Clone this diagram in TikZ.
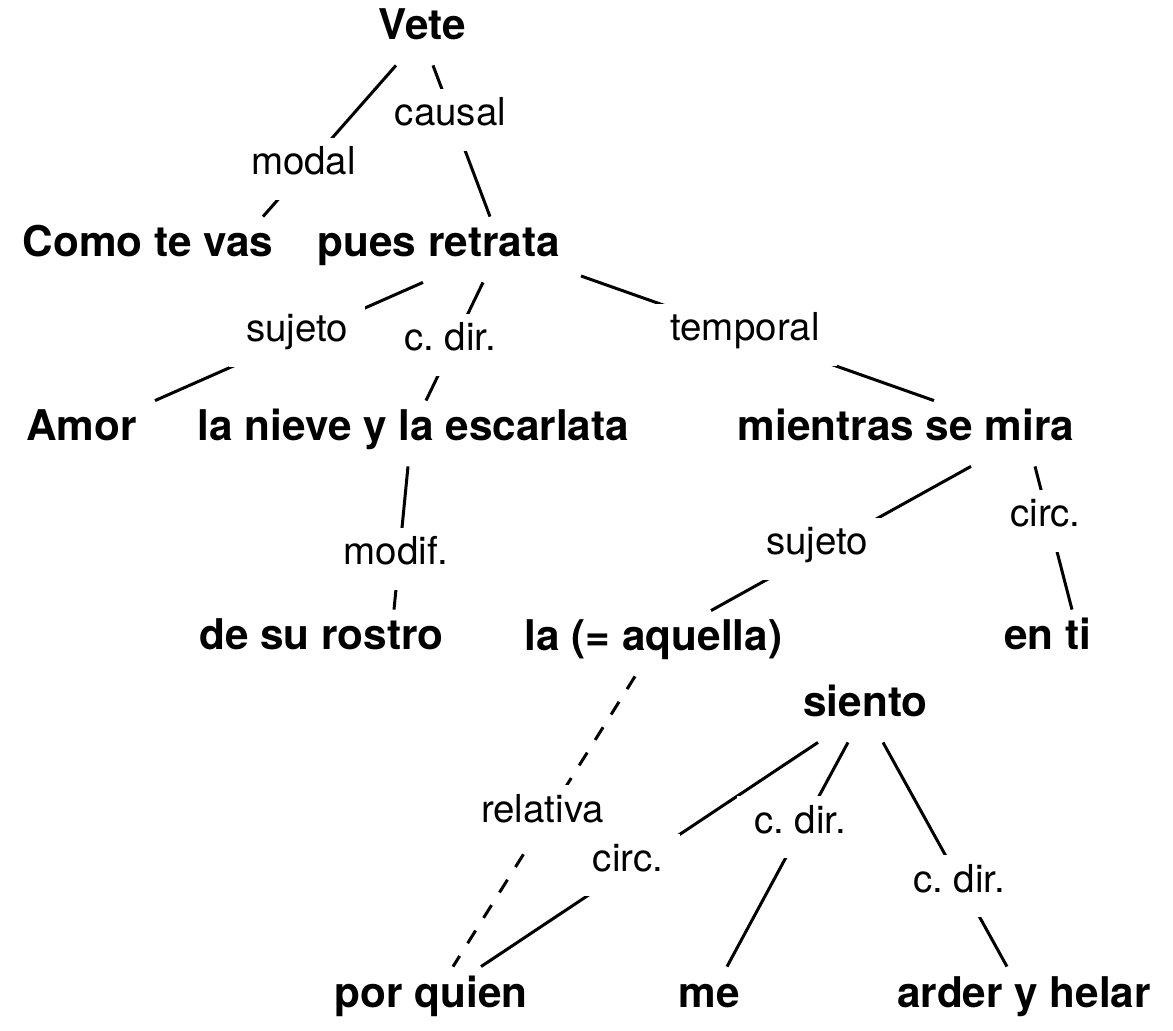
\documentclass[tikz,border=0pt]{standalone}
\usepackage{fontspec}
\setmainfont{TeX Gyre Heros}
\usetikzlibrary{calc}
\frenchspacing
\begin{document}
\begin{tikzpicture}[x=0.5pt,y=-0.5pt,
  word/.style={font=\fontsize{21.15pt}{25pt}\selectfont\bfseries, anchor=base,
    text height=15pt, text depth=7.5pt, inner xsep=9.5pt, inner ysep=5pt},
  rel/.style={font=\fontsize{19.25pt}{23pt}\selectfont\frenchspacing, anchor=base, fill=white,
    text height=13.5pt, text depth=7.5pt, inner xsep=8.5pt, inner ysep=5pt},
  link/.style={line width=1.5pt},
  dashlink/.style={link, dash pattern=on 7.5pt off 7.5pt}]
\useasboundingbox (0,0) rectangle (1173,1031);
% words
\node[word] (vete)     at (422.5,40)  {Vete};
\node[word] (como)     at (148,257)   {Como te vas};
\node[word] (pues)     at (439,257)   {pues retrata};
\node[word] (amor)     at (81.5,441)  {Amor};
\node[word] (nieve)    at (413.5,441) {la nieve y la escarlata};
\node[word] (mientras) at (906,441)   {mientras se mira};
\node[word] (rostro)   at (321.5,650) {de su rostro};
\node[word] (la)       at (653.5,651) {la (= aquella)};
\node[word] (enti)     at (1047.5,650) {en ti};
\node[word] (siento)   at (865.5,717) {siento};
\node[word] (porquien) at (431,1007)  {por quien};
\node[word] (me)       at (709,1007)  {me};
\node[word] (arder)    at (1024,1007) {arder y helar};
% connectors
\draw[link] ($(vete.south)+(-26.5,0)$) -- ($(como.north)+(115,0)$);
\draw[link] ($(vete.south)+(10.5,0)$) -- ($(pues.north)+(51,0)$);
\draw[link] ($(pues.south)+(-16,0)$) -- ($(amor.north)+(73.5,0)$);
\draw[link] ($(pues.south)+(44,0)$) -- ($(nieve.north)+(12.5,0)$);
\draw[link] ($(pues.base)+(142,19)$) -- ($(mientras.north)+(28,0)$);
\draw[link] ($(nieve.south)+(-5.5,0)$) -- ($(rostro.north)+(72.5,0)$);
\draw[link] ($(mientras.south)+(65,0)$) -- ($(la.north)+(57.5,0)$);
\draw[link] ($(mientras.south)+(129,0)$) -- ($(enti.north)+(24.5,0)$);
\draw[dashlink] ($(la.south)+(-18.5,0)$) -- ($(porquien.north)+(22,0)$);
\draw[link] ($(siento.south)+(-47.5,0)$) -- ($(porquien.north)+(50,0)$);
\draw[link] ($(siento.south)+(-17.5,0)$) -- ($(me.north)+(18,0)$);
\draw[link] ($(siento.south)+(17.5,0)$) -- ($(arder.north)+(-17,0)$);
% relation labels
\node[rel] (modal)    at (303.5,175) {modal};
\node[rel] (causal)   at (450.5,126) {causal};
\node[rel] (sujetoA)  at (297,342)   {sujeto};
\node[rel] (cdirA)    at (450,351)   {c. dir.};
\node[rel] (temporal) at (745,341)   {temporal};
\node[rel] (modif)    at (396,565)   {modif.};
\node[rel] (sujetoB)  at (817,555)   {sujeto};
\node[rel] (circA)    at (1045.5,527) {circ.};
\node[rel] (relativa) at (542.5,822) {relativa};
\node[rel] (circB)    at (628,871)   {circ.};
\node[rel] (cdirB)    at (800,833)   {c. dir.};
\node[rel] (cdirC)    at (959,892)   {c. dir.};
\end{tikzpicture}
\end{document}
